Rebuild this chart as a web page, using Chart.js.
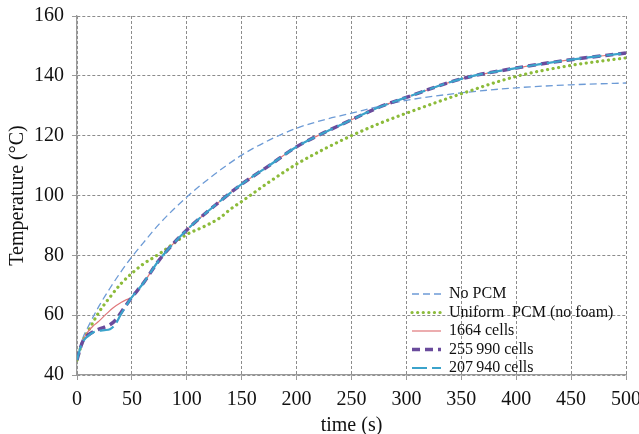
<!DOCTYPE html>
<html>
<head>
<meta charset="utf-8">
<script src="https://cdn.jsdelivr.net/npm/chart.js@4"></script>
<style>
  html, body { margin: 0; padding: 0; background: #fff; }
  #wrap { width: 639px; height: 434px; position: relative; }
</style>
</head>
<body>
<div id="wrap"><canvas id="tempChart"></canvas></div>
<script>
// values (time in s, temperature in °C)
const xTicks = [0, 50, 100, 150, 200, 250, 300, 350, 400, 450, 500];
const yTicks = [40, 60, 80, 100, 120, 140, 160];

const timeNoPcm = [0, 5, 10, 20, 30, 40, 50, 60, 75, 100, 125, 150, 175, 200, 225, 250, 275, 300, 350, 400, 450, 500];
const tempNoPcm = [45, 52, 56, 63, 69, 74.5, 79.5, 84, 90.5, 99.5, 107, 113.5, 118.5, 122.5, 125.3, 127.5, 129.8, 131.8, 134.3, 136, 137, 137.6];

const timeUniform = [0, 5, 10, 20, 30, 40, 50, 60, 75, 90, 100, 115, 130, 140, 150, 175, 200, 225, 250, 275, 300, 350, 400, 450, 500];
const tempUniform = [45, 51, 54.5, 61, 66, 70.5, 74, 77, 80.5, 84.5, 87, 89.5, 92.5, 95.5, 98, 104.5, 110.5, 115.5, 120, 124, 127.5, 134, 139.8, 143.5, 146];

// the three foam meshes share the same curve after ~50 s
const timeLate = [60, 75, 100, 125, 150, 175, 200, 225, 250, 275, 300, 350, 400, 450, 500];
const tempLate = [70.5, 78.5, 88.5, 96.5, 103.8, 110, 116.3, 121, 125.3, 129.5, 132.8, 139, 142.6, 145.4, 147.6];

const timeEarly1664 = [0, 3, 6, 10, 15, 20, 27, 33, 40, 45, 50];
const temp1664 = [45, 49, 52, 54.5, 56.5, 58, 60.5, 62.5, 64.2, 65.2, 66];

const timeEarlyFine = [0, 3, 6, 10, 15, 20, 25, 30, 35, 40, 45, 50];
const temp255990 = [45, 49, 51.8, 53.3, 54.5, 55.3, 56, 56.8, 58.3, 60.8, 63.5, 66];
const temp207940 = [45, 49, 51.5, 53, 54.3, 54.8, 55, 55.3, 57, 60.3, 63.3, 66];

const labels = ['No PCM', 'Uniform  PCM (no foam)', '1664 cells', '255\u2009990 cells', '207\u2009940 cells'];

function toPoints(xs, ys) {
  const pts = [];
  for (let i = 0; i < xs.length; i++) {
    pts.push({ x: xs[i], y: ys[i] });
  }
  return pts;
}

const serif = "'Liberation Serif', 'Times New Roman', serif";

// legend drawn inside the plot, lower right
const insideLegend = {
  id: 'insideLegend',
  afterDatasetsDraw(chart) {
    const ctx = chart.ctx;
    const x0 = 412;
    const lineLen = 29;
    const textX = 449;
    const rowY = [294, 312.5, 331, 349.5, 368];
    ctx.save();
    chart.data.datasets.forEach(function (ds, i) {
      const y = rowY[i];
      ctx.beginPath();
      ctx.strokeStyle = ds.borderColor;
      ctx.lineWidth = ds.borderWidth;
      ctx.lineCap = ds.borderCapStyle || 'butt';
      ctx.setLineDash(ds.borderDash || []);
      ctx.moveTo(x0, y);
      ctx.lineTo(x0 + lineLen, y);
      ctx.stroke();
      ctx.setLineDash([]);
      ctx.fillStyle = '#111';
      ctx.font = '16px ' + serif;
      ctx.textBaseline = 'middle';
      ctx.textAlign = 'left';
      ctx.fillText(ds.label, textX, y);
    });
    ctx.restore();
  }
};

const common = {
  fill: false,
  pointRadius: 0,
  pointHoverRadius: 0,
  cubicInterpolationMode: 'monotone',
};

const gridOpts = {
  color: '#8c8c8c',
  lineWidth: 1,
  tickLength: 5,
  tickColor: '#9a9a9a',
  tickBorderDash: [],
};

new Chart(document.getElementById('tempChart'), {
  type: 'line',
  data: {
    datasets: [
      Object.assign({}, common, {
        label: labels[0],
        data: toPoints(timeNoPcm, tempNoPcm),
        borderColor: '#6d9bd6',
        borderWidth: 1.3,
        borderDash: [7, 4],
        order: 4,
      }),
      Object.assign({}, common, {
        label: labels[1],
        data: toPoints(timeUniform, tempUniform),
        borderColor: '#8cbb3a',
        borderWidth: 3.2,
        borderDash: [0.1, 5.5],
        borderCapStyle: 'round',
        order: 3,
      }),
      Object.assign({}, common, {
        label: labels[2],
        data: toPoints(timeEarly1664.concat(timeLate), temp1664.concat(tempLate)),
        borderColor: '#e0777a',
        borderWidth: 1.2,
        order: 2,
      }),
      Object.assign({}, common, {
        label: labels[3],
        data: toPoints(timeEarlyFine.concat(timeLate), temp255990.concat(tempLate)),
        borderColor: '#6a4b9c',
        borderWidth: 3.5,
        borderDash: [8, 5],
        order: 1,
      }),
      Object.assign({}, common, {
        label: labels[4],
        data: toPoints(timeEarlyFine.concat(timeLate), temp207940.concat(tempLate)),
        borderColor: '#3ba3cb',
        borderWidth: 2.2,
        borderDash: [15, 5],
        order: 0,
      }),
    ],
  },
  options: {
    responsive: true,
    maintainAspectRatio: false,
    animation: false,
    layout: { padding: { top: 16, right: 13, bottom: 0, left: 0 } },
    plugins: {
      legend: { display: false },
      tooltip: { enabled: false },
    },
    scales: {
      x: {
        type: 'linear',
        min: 0,
        max: 500,
        afterBuildTicks: function (s) {
          s.ticks = xTicks.map(function (v) { return { value: v }; });
        },
        afterFit: function (s) {
          s.height = 59;
          s.paddingLeft = 0;
          s.paddingRight = 0;
        },
        ticks: {
          color: '#111',
          font: { family: serif, size: 20 },
          padding: 8,
          maxRotation: 0,
        },
        grid: gridOpts,
        border: { display: true, color: '#9a9a9a', width: 1.3, dash: [3, 2] },
        title: {
          display: true,
          text: 'time (s)',
          color: '#111',
          font: { family: serif, size: 20, lineHeight: 0.8 },
          padding: { top: 0, bottom: 0 },
        },
      },
      y: {
        type: 'linear',
        min: 40,
        max: 160,
        afterBuildTicks: function (s) {
          s.ticks = yTicks.map(function (v) { return { value: v }; });
        },
        afterFit: function (s) {
          s.width = 77;
          s.paddingTop = 0;
          s.paddingBottom = 0;
        },
        ticks: {
          color: '#111',
          font: { family: serif, size: 20 },
          padding: 8,
        },
        grid: gridOpts,
        border: { display: true, color: '#9a9a9a', width: 1.3, dash: [3, 2] },
        title: {
          display: true,
          text: 'Temperature (°C)',
          color: '#111',
          font: { family: serif, size: 20, lineHeight: 1.2 },
          padding: { top: 6, bottom: 0 },
        },
      },
    },
  },
  plugins: [insideLegend],
});
</script>
</body>
</html>
